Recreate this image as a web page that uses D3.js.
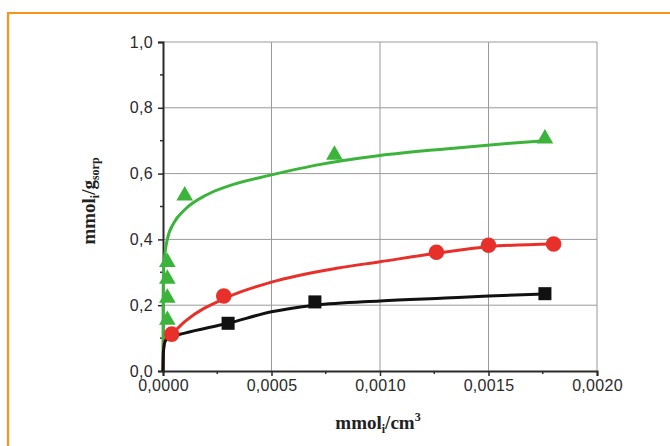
<!DOCTYPE html>
<html>
<head>
<meta charset="utf-8">
<script src="https://cdn.jsdelivr.net/npm/d3@7"></script>
<style>
  html, body { margin: 0; padding: 0; background: #fff; }
  svg { display: block; }
</style>
</head>
<body>
<div id="chart"></div>
<script>
// Sorption isotherms: measured points and fitted curves for three sorbents
const xTicks = [0, 0.0005, 0.0010, 0.0015, 0.0020];
const yTicks = [0, 0.2, 0.4, 0.6, 0.8, 1.0];

// measured points [mmol_i/cm3, mmol_i/g_sorp]
const blackPoints = [[0.00030, 0.145], [0.00070, 0.210], [0.00176, 0.235]];
const redPoints = [[0.00004, 0.112], [0.00028, 0.228], [0.00126, 0.361], [0.00150, 0.382], [0.00180, 0.386]];
const greenPoints = [[0.00002, 0.155], [0.00002, 0.222], [0.00002, 0.280], [0.00002, 0.331],
                     [0.00010, 0.533], [0.00079, 0.657], [0.00176, 0.706]];

// fitted curves
const blackCurve = [[0, 0], [0.000002, 0.06], [0.00001, 0.09], [0.00003, 0.102], [0.0001, 0.115],
                    [0.0003, 0.145], [0.0005, 0.180], [0.0007, 0.200], [0.0010, 0.213],
                    [0.0013, 0.222], [0.0015, 0.228], [0.00176, 0.234]];
const redCurve = [[0, 0], [0.000002, 0.06], [0.00001, 0.095], [0.00004, 0.112], [0.0001, 0.150],
                  [0.0003, 0.225], [0.0005, 0.270], [0.0008, 0.312], [0.0010, 0.332],
                  [0.00126, 0.358], [0.0015, 0.378], [0.0018, 0.386]];
const greenCurve = [[0, 0], [0.0000005, 0.20], [0.000002, 0.29], [0.000008, 0.35], [0.00002, 0.40],
                    [0.00005, 0.45], [0.0001, 0.49], [0.0002, 0.535], [0.0003, 0.562],
                    [0.0005, 0.596], [0.0007, 0.625], [0.0010, 0.655], [0.0013, 0.675],
                    [0.0016, 0.692], [0.00176, 0.700]];

const W = 670, H = 446;
const svg = d3.select("#chart").append("svg").attr("width", W).attr("height", H);

// orange frame
svg.append("path")
  .attr("d", `M${W + 5},13 H8 V${H + 5}`)
  .attr("fill", "none").attr("stroke", "#f7941d").attr("stroke-width", 2.2);

const x = d3.scaleLinear().domain([0, 0.002]).range([163, 597]);
const y = d3.scaleLinear().domain([0, 1.0]).range([371, 42]);

const comma = f => v => f(v).replace(".", ",");

// grid lines
const grid = svg.append("g").attr("stroke", "#9a9a9a").attr("stroke-width", 1);
grid.selectAll("line.v").data(xTicks.slice(1)).join("line")
  .attr("x1", d => x(d)).attr("x2", d => x(d)).attr("y1", y(0)).attr("y2", y(1));
grid.selectAll("line.h").data(yTicks.slice(1)).join("line")
  .attr("x1", x(0)).attr("x2", x(0.002)).attr("y1", d => y(d)).attr("y2", d => y(d));

// minor ticks
const minorX = d3.range(0.00025, 0.002, 0.0005);
const minorY = d3.range(0.1, 1.0, 0.2);
svg.append("g").selectAll("line").data(minorX).join("line")
  .attr("x1", d => x(d)).attr("x2", d => x(d)).attr("y1", y(0)).attr("y2", y(0) + 3)
  .attr("stroke", "#333").attr("stroke-width", 1.5);
svg.append("g").selectAll("line").data(minorY).join("line")
  .attr("y1", d => y(d)).attr("y2", d => y(d)).attr("x1", x(0)).attr("x2", x(0) - 3)
  .attr("stroke", "#333").attr("stroke-width", 1.5);

// axes
const xAxis = svg.append("g").attr("transform", `translate(0,${y(0)})`)
  .call(d3.axisBottom(x).tickValues(xTicks).tickFormat(comma(d3.format(".4f"))).tickSize(5).tickPadding(4));
const yAxis = svg.append("g").attr("transform", `translate(${x(0)},0)`)
  .call(d3.axisLeft(y).tickValues(yTicks).tickFormat(comma(d3.format(".1f"))).tickSize(5).tickPadding(5));
[xAxis, yAxis].forEach(a => {
  a.select(".domain").attr("stroke", "#2a2a2a").attr("stroke-width", 2);
  a.selectAll(".tick line").attr("stroke", "#2a2a2a").attr("stroke-width", 1.5);
  a.selectAll(".tick text").attr("fill", "#2a2a2a")
    .style("font-family", "'Liberation Sans', Arial, sans-serif").style("font-size", "16px")
    .style("letter-spacing", "0.3px");
});

// fitted curves
const line = d3.line().x(d => x(d[0])).y(d => y(d[1])).curve(d3.curveMonotoneX);
const series = [
  { curve: greenCurve, pts: greenPoints, color: "#3cb43c", shape: "triangle" },
  { curve: redCurve, pts: redPoints, color: "#e8302a", shape: "circle" },
  { curve: blackCurve, pts: blackPoints, color: "#111111", shape: "square" }
];
series.forEach(s => {
  svg.append("path").datum(s.curve).attr("d", line)
    .attr("fill", "none").attr("stroke", s.color).attr("stroke-width", 3);
});

// markers
const symbolType = { triangle: d3.symbolTriangle, circle: d3.symbolCircle, square: d3.symbolSquare };
const symbolSize = { triangle: 120, circle: 190, square: 170 };
series.forEach(s => {
  svg.append("g").selectAll("path").data(s.pts).join("path")
    .attr("transform", d => `translate(${x(d[0])},${y(d[1])})`)
    .attr("d", d3.symbol().type(symbolType[s.shape]).size(symbolSize[s.shape]))
    .attr("fill", s.color);
});

// axis titles
const titleFont = "'Liberation Serif', 'Times New Roman', serif";
const xt = svg.append("text").attr("x", 378).attr("y", 429).attr("text-anchor", "middle")
  .style("font-family", titleFont).style("font-weight", "bold").style("font-size", "19px").attr("fill", "#222");
xt.append("tspan").text("mmol");
xt.append("tspan").attr("dy", 4).style("font-size", "12px").text("i");
xt.append("tspan").attr("dy", -4).text("/cm");
xt.append("tspan").attr("dy", -8).style("font-size", "12px").text("3");

const yt = svg.append("text").attr("transform", "translate(95,201) rotate(-90)").attr("text-anchor", "middle")
  .style("font-family", titleFont).style("font-weight", "bold").style("font-size", "19px").attr("fill", "#222");
yt.append("tspan").text("mmol");
yt.append("tspan").attr("dy", 4).style("font-size", "12px").text("i");
yt.append("tspan").attr("dy", -4).text("/g");
yt.append("tspan").attr("dy", 4).style("font-size", "12px").text("sorp");
</script>
</body>
</html>
